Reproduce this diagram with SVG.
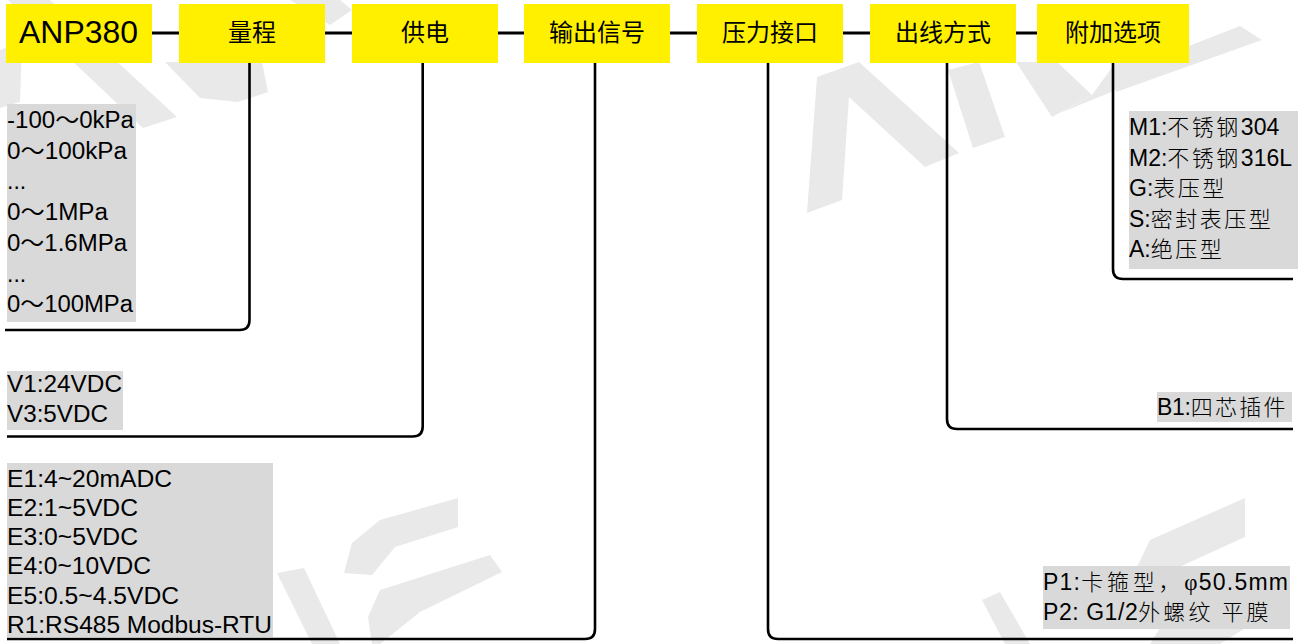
<svg xmlns="http://www.w3.org/2000/svg" width="1307" height="644" viewBox="0 0 1307 644">
<style>
.box{fill:#FFF000}
.bt{font-family:"Noto Sans CJK SC","Liberation Sans",sans-serif;font-size:24px;fill:#000;text-anchor:middle}
.lbl{fill:#D9D9D9}
.wm{fill:#E9E9E9}
.t{font-family:"Liberation Sans","Noto Sans CJK SC",sans-serif;font-size:23px;fill:#000}
.cjk{font-family:"Noto Sans CJK SC",sans-serif;font-weight:300;font-size:22px;letter-spacing:2.5px}
.ln{fill:none;stroke:#000;stroke-width:2.6}
.hl{stroke:#000;stroke-width:3}
</style>
<rect width="1307" height="644" fill="#fff"/>
<g id="watermark">
<polygon class="wm" points="8,0 50,0 177,117 143,128"/>
<polygon class="wm" points="0,50 22,42 20,102 0,108"/>
<polygon class="wm" points="165,62 262,62 268,92 238,102 200,98"/>
<polygon class="wm" points="290,0 340,0 352,10 330,25"/>
<polygon class="wm" points="817,77 859,62 959,153 925,167 849,97 842,200 807,213"/>
<polygon class="wm" points="948,70 979,62 1005,137 973,148"/>
<polygon class="wm" points="1016,62 1057,62 1092,95 1052,117"/>
<polygon class="wm" points="1092,95 1116,62 1116,90 1060,113"/>
<polygon class="wm" points="1116,62 1189,62 1189,46 1240,26 1262,40 1116,92"/>
<polygon class="wm" points="277,573 304,568 340,644 312,644"/>
<polygon class="wm" points="344,573 352,543 380,520 458,498 458,527 395,547 372,575"/>
<polygon class="wm" points="368,617 380,590 490,555 502,572 420,612 380,644 372,644"/>
<polygon class="wm" points="982,600 1000,592 1030,644 1005,644"/>
<polygon class="wm" points="1137,567 1150,540 1245,498 1245,537 1166,573"/>
<polygon class="wm" points="1150,644 1165,620 1270,585 1290,600 1220,644"/>
</g>
<g id="connectors">
<line class="hl" x1="150" y1="33" x2="181" y2="33"/>
<line class="hl" x1="323" y1="33" x2="354" y2="33"/>
<line class="hl" x1="496" y1="33" x2="526" y2="33"/>
<line class="hl" x1="668" y1="33" x2="699" y2="33"/>
<line class="hl" x1="841" y1="33" x2="872" y2="33"/>
<line class="hl" x1="1014" y1="33" x2="1039" y2="33"/>
<path class="ln" d="M249.5,62 V320 Q249.5,330 239.5,330 H5"/>
<path class="ln" d="M422.7,62 V426.5 Q422.7,436.5 412.7,436.5 H7"/>
<path class="ln" d="M595,62 V629 Q595,639 585,639 H7"/>
<path class="ln" d="M768,62 V629 Q768,639 778,639 H1293"/>
<path class="ln" d="M947,62 V419 Q947,429 957,429 H1293"/>
<path class="ln" d="M1113,62 V269 Q1113,279 1123,279 H1293"/>
</g>
<g id="n-anp380"><rect class="box" x="6" y="4" width="146" height="59"/><text x="78.5" y="43" font-family="Liberation Sans,sans-serif" font-size="31" text-anchor="middle" textLength="119" lengthAdjust="spacingAndGlyphs">ANP380</text></g>
<g id="n-range"><rect class="box" x="179" y="4" width="146" height="59"/><text class="bt" x="252" y="41">量程</text></g>
<g id="n-power"><rect class="box" x="352" y="4" width="146" height="59"/><text class="bt" x="425" y="41">供电</text></g>
<g id="n-output"><rect class="box" x="524" y="4" width="146" height="59"/><text class="bt" x="597" y="41">输出信号</text></g>
<g id="n-port"><rect class="box" x="697" y="4" width="146" height="59"/><text class="bt" x="770" y="41">压力接口</text></g>
<g id="n-cable"><rect class="box" x="870" y="4" width="146" height="59"/><text class="bt" x="943" y="41">出线方式</text></g>
<g id="n-extra"><rect class="box" x="1037" y="4" width="152" height="59"/><text class="bt" x="1113" y="41">附加选项</text></g>

<g id="l-range">
<rect class="lbl" x="7" y="104" width="129" height="218"/>
<text class="t" x="7" y="128" textLength="127" lengthAdjust="spacingAndGlyphs">-100～0kPa</text>
<text class="t" x="7" y="158.7" textLength="120" lengthAdjust="spacingAndGlyphs">0～100kPa</text>
<text class="t" x="7" y="189.4">...</text>
<text class="t" x="7" y="220" textLength="101" lengthAdjust="spacingAndGlyphs">0～1MPa</text>
<text class="t" x="7" y="250.8" textLength="120" lengthAdjust="spacingAndGlyphs">0～1.6MPa</text>
<text class="t" x="7" y="281.5">...</text>
<text class="t" x="7" y="312.2" textLength="126" lengthAdjust="spacingAndGlyphs">0～100MPa</text>
</g>
<g id="l-power">
<rect class="lbl" x="7" y="371" width="116" height="59"/>
<text class="t" x="7" y="392" textLength="115" lengthAdjust="spacingAndGlyphs">V1:24VDC</text>
<text class="t" x="7" y="422" textLength="101" lengthAdjust="spacingAndGlyphs">V3:5VDC</text>
</g>
<g id="l-output">
<rect class="lbl" x="7" y="463" width="266" height="174"/>
<text class="t" x="7" y="487" textLength="165" lengthAdjust="spacingAndGlyphs">E1:4~20mADC</text>
<text class="t" x="7" y="516" textLength="131" lengthAdjust="spacingAndGlyphs">E2:1~5VDC</text>
<text class="t" x="7" y="545" textLength="131" lengthAdjust="spacingAndGlyphs">E3:0~5VDC</text>
<text class="t" x="7" y="574" textLength="144" lengthAdjust="spacingAndGlyphs">E4:0~10VDC</text>
<text class="t" x="7" y="604" textLength="172" lengthAdjust="spacingAndGlyphs">E5:0.5~4.5VDC</text>
<text class="t" x="7" y="633" textLength="265" lengthAdjust="spacingAndGlyphs">R1:RS485 Modbus-RTU</text>
</g>
<g id="l-port">
<rect class="lbl" x="1043" y="566" width="247" height="63"/>
<text class="t" x="1043" y="590" textLength="245" lengthAdjust="spacing">P1:<tspan class="cjk" letter-spacing="0">卡箍型，</tspan><tspan font-family="Liberation Serif,serif">φ</tspan>50.5mm</text>
<text class="t" x="1043" y="620" textLength="228" lengthAdjust="spacing">P2: G1/2<tspan class="cjk" letter-spacing="0">外螺纹 平膜</tspan></text>
</g>
<g id="l-cable">
<rect class="lbl" x="1157" y="392" width="135" height="30"/>
<text class="t" x="1157" y="415" textLength="131" lengthAdjust="spacing">B1:<tspan class="cjk" letter-spacing="0">四芯插件</tspan></text>
</g>
<g id="l-extra">
<rect class="lbl" x="1129" y="111" width="169" height="158"/>
<text class="t"><tspan x="1129" y="135">M1:</tspan><tspan class="cjk">不锈钢</tspan><tspan>304</tspan><tspan x="1129" y="165.5">M2:</tspan><tspan class="cjk">不锈钢</tspan><tspan>316L</tspan><tspan x="1129" y="196">G:</tspan><tspan class="cjk">表压型</tspan><tspan x="1129" y="226.5">S:</tspan><tspan class="cjk">密封表压型</tspan><tspan x="1129" y="257">A:</tspan><tspan class="cjk">绝压型</tspan></text>
</g>
</svg>
